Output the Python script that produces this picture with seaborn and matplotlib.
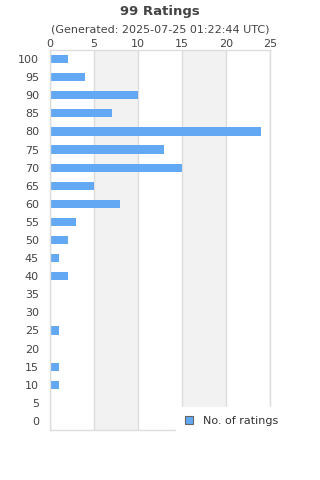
import pandas as pd
import numpy as np
import seaborn as sns
import matplotlib.pyplot as plt
from matplotlib.patches import Patch

ratings = [100, 95, 90, 85, 80, 75, 70, 65, 60, 55, 50, 45, 40, 35, 30, 25, 20, 15, 10, 5, 0]
counts = [2, 4, 10, 7, 24, 13, 15, 5, 8, 3, 2, 1, 2, 0, 0, 1, 0, 1, 1, 0, 0]
x_ticks = [0, 5, 10, 15, 20, 25]
title = "99 Ratings"
subtitle = "(Generated: 2025-07-25 01:22:44 UTC)"
series_name = "No. of ratings"
bar_color = "#62a8f2"

df = pd.DataFrame({"rating": [str(r) for r in ratings], "count": counts})

sns.set_style("white")
plt.rcParams['font.family'] = ['DejaVu Sans']

fig = plt.figure(figsize=(3.2, 4.8), dpi=100)
ax = fig.add_axes([50/320, 1-430/480, 220/320, 380/480])

# alternating bands
for i in range(1, len(x_ticks) - 1, 2):
    ax.axvspan(x_ticks[i], x_ticks[i+1], color="#f2f2f2", zorder=0, lw=0)
for t in x_ticks:
    ax.axvline(t, color="#dddddd", lw=1, zorder=0.5)

sns.barplot(data=df, y="rating", x="count", order=[str(r) for r in ratings],
            orient="h", color=bar_color, saturation=1, width=0.45, ax=ax,
            linewidth=0, zorder=2)

ax.set_xlim(0, 25)
ax.set_xticks(x_ticks)
ax.xaxis.tick_top()
ax.tick_params(axis="x", length=0, pad=1, labelsize=8, labelcolor="#444444")
ax.tick_params(axis="y", length=0, pad=8, labelsize=8, labelcolor="#444444")
ax.set_xlabel("")
ax.set_ylabel("")
for s in ax.spines.values():
    s.set_color("#dddddd")
    s.set_linewidth(1)

fig.text(0.5, 1-11/480, title, ha="center", va="center", fontsize=9.5,
         fontweight="bold", color="#444444")
fig.text(0.5, 1-30/480, subtitle, ha="center", va="center", fontsize=8, color="#444444")

handle = Patch(facecolor=bar_color, edgecolor="#666666", linewidth=0.8)
leg = fig.legend([handle], [series_name], loc="center left",
                 bbox_to_anchor=(176/320, 1-421/480), frameon=True, fontsize=8,
                 handlelength=0.7, handleheight=0.7, handletextpad=0.9,
                 borderpad=0.8, borderaxespad=0, fancybox=False)
leg.set_zorder(10)
leg.get_frame().set_edgecolor("white")
leg.get_frame().set_facecolor("white")
leg.get_frame().set_alpha(1)
for t in leg.get_texts():
    t.set_color("#333333")

fig.savefig("out.png", dpi=100)
